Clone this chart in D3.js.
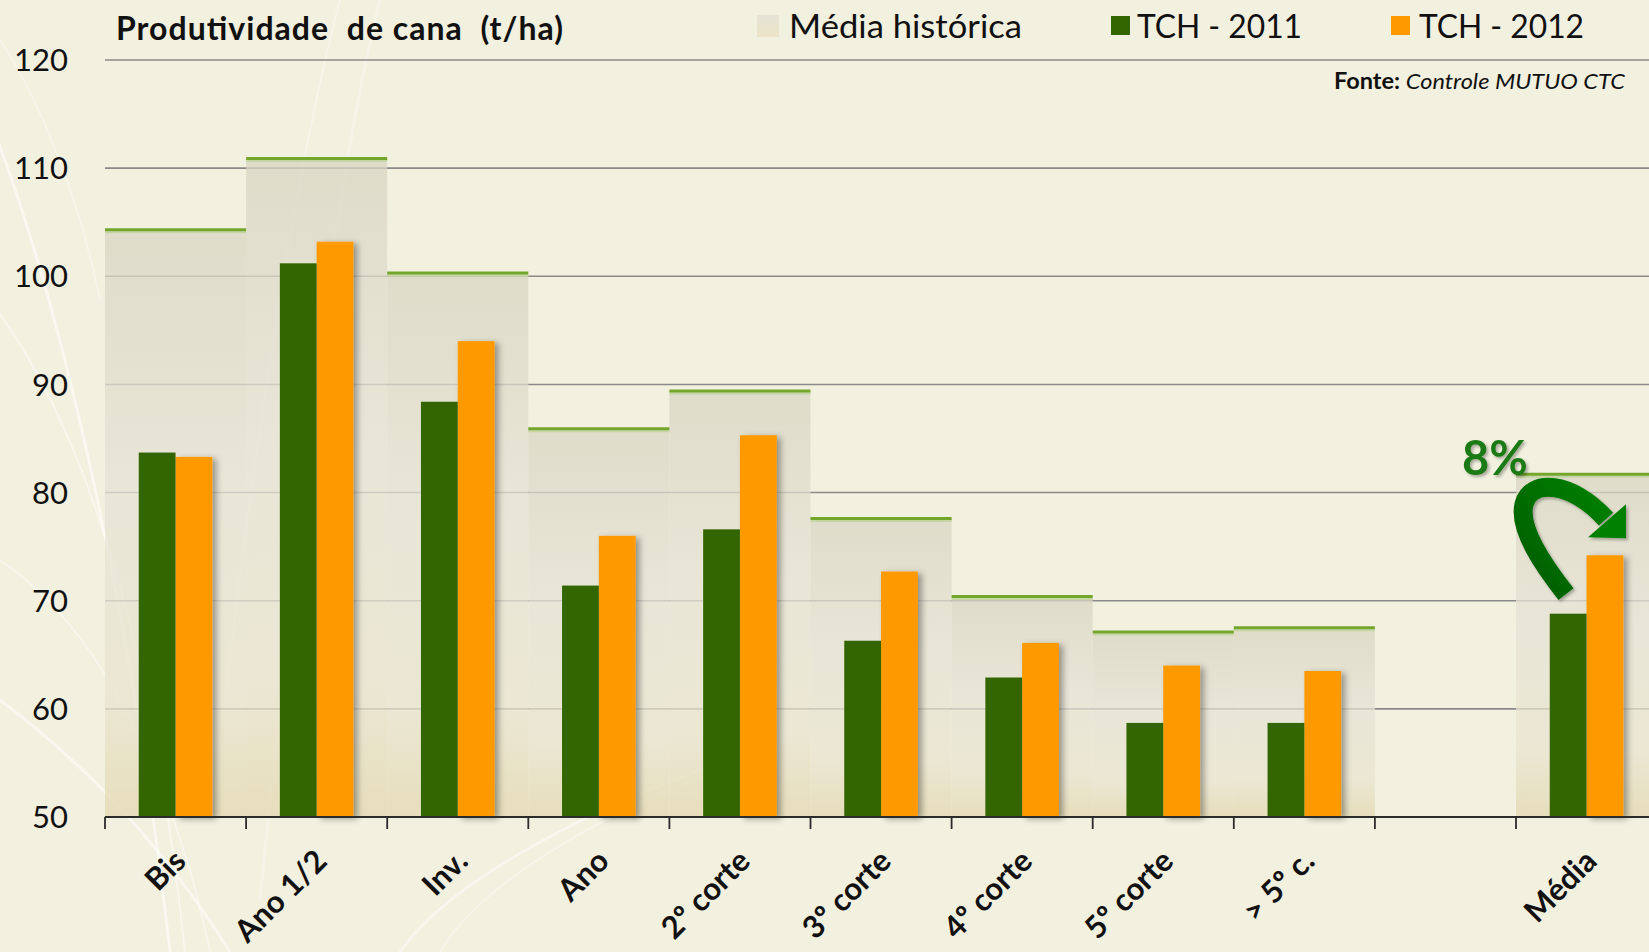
<!DOCTYPE html>
<html>
<head>
<meta charset="utf-8">
<script src="https://cdn.jsdelivr.net/npm/d3@7"></script>
<style>
  html, body { margin: 0; padding: 0; background: #f2f0df; }
  svg { display: block; }
  text { font-family: Lato, "Open Sans", sans-serif; }
</style>
</head>
<body>
<svg id="chart" width="1649" height="952"></svg>
<script>
// ---- Data ----
const categories = ["Bis", "Ano 1/2", "Inv.", "Ano", "2º corte", "3º corte", "4º corte", "5º corte", "> 5º c.", " ", "Média"];
const mediaHistorica = [104.3, 110.9, 100.3, 85.9, 89.4, 77.6, 70.4, 67.1, 67.5, null, 81.7];
const tch2011 = [83.7, 101.2, 88.4, 71.4, 76.6, 66.3, 62.9, 58.7, 58.7, null, 68.8];
const tch2012 = [83.3, 103.2, 94.0, 76.0, 85.3, 72.7, 66.1, 64.0, 63.5, null, 74.2];
const seriesNames = ["TCH - 2011", "TCH - 2012"];
const yTicks = [50, 60, 70, 80, 90, 100, 110, 120];
const titleText = "Produtividade  de cana  (t/ha)";
const annotationText = "8%";

// ---- Layout ----
const W = 1649, H = 952;
const left = 105, bandW = 141.1;
const svg = d3.select("#chart");
const defs = svg.append("defs");

// background
svg.append("rect").attr("width", W).attr("height", H).attr("fill", "#f2f0df");
// decorative streaks
const streaks = svg.append("g").attr("fill", "none").attr("stroke", "#ffffff").attr("stroke-linecap", "round");
[
  ["M -10 120 C 60 300, 130 600, 170 952", 3, 0.55],
  ["M -10 300 C 80 420, 150 620, 185 952", 2, 0.45],
  ["M 0 700 C 80 760, 160 840, 230 952", 3, 0.5],
  ["M 0 560 C 90 620, 170 760, 210 952", 2, 0.4],
  ["M 340 0 C 300 150, 260 400, 225 700", 2, 0.35],
  ["M 380 0 C 330 200, 300 500, 260 900", 3, 0.3],
  ["M 760 750 C 600 800, 450 880, 400 952", 3, 0.45],
  ["M 720 770 C 560 830, 470 900, 440 952", 2, 0.35],
  ["M 0 40 C 40 100, 80 200, 100 300", 2, 0.35]
].forEach(([d, w, o]) => streaks.append("path").attr("d", d).attr("stroke-width", w).attr("opacity", o));

// gradients
const hg = defs.append("linearGradient").attr("id", "histGrad").attr("x1", 0).attr("y1", 0).attr("x2", 0).attr("y2", 1);
hg.append("stop").attr("offset", "0%").attr("stop-color", "#d9d5c3").attr("stop-opacity", 0.75);
hg.append("stop").attr("offset", "45%").attr("stop-color", "#e6e3d5").attr("stop-opacity", 0.75);
hg.append("stop").attr("offset", "80%").attr("stop-color", "#e9e4cf").attr("stop-opacity", 0.75);
hg.append("stop").attr("offset", "100%").attr("stop-color", "#e3d9b2").attr("stop-opacity", 0.8);

const sh = defs.append("filter").attr("id", "shadow").attr("x", "-20%").attr("y", "-5%").attr("width", "150%").attr("height", "110%");
sh.append("feDropShadow").attr("dx", 4).attr("dy", 2).attr("stdDeviation", 3).attr("flood-color", "#000").attr("flood-opacity", 0.35);

const ag = defs.append("linearGradient").attr("id", "arrowGrad").attr("x1", 0).attr("y1", 1).attr("x2", 1).attr("y2", 0);
ag.append("stop").attr("offset", "0%").attr("stop-color", "#005c00");
ag.append("stop").attr("offset", "100%").attr("stop-color", "#008000");

const ts = defs.append("filter").attr("id", "tshadow").attr("x", "-20%").attr("y", "-20%").attr("width", "150%").attr("height", "150%");
ts.append("feDropShadow").attr("dx", 2).attr("dy", 2).attr("stdDeviation", 1.5).attr("flood-color", "#000").attr("flood-opacity", 0.3);

// scales
const x = d3.scaleBand().domain(categories).range([left, left + bandW * categories.length]).paddingInner(0).paddingOuter(0);
const xSub = d3.scaleBand().domain(seriesNames).range([0, x.bandwidth()]).paddingInner(0).paddingOuter(0.917);
const y = d3.scaleLinear().domain([50, 120]).range([817, 60]);
const color = d3.scaleOrdinal().domain(seriesNames).range(["#336600", "#ff9900"]);

// gridlines
svg.append("g").selectAll("line").data(yTicks.filter(t => t > 50)).join("line")
  .attr("x1", left).attr("x2", W).attr("y1", d => y(d)).attr("y2", d => y(d))
  .attr("stroke", "#8a8a8a").attr("stroke-width", 1.6);

// historical bands
const rows = categories.map((c, i) => ({ c, h: mediaHistorica[i], a: tch2011[i], b: tch2012[i] }));
const histRows = rows.filter(r => r.h != null);
svg.append("g").selectAll("rect").data(histRows).join("rect")
  .attr("x", d => x(d.c)).attr("width", x.bandwidth())
  .attr("y", d => y(d.h)).attr("height", d => y(50) - y(d.h))
  .attr("fill", "url(#histGrad)");
svg.append("g").selectAll("line").data(histRows).join("line")
  .attr("x1", d => x(d.c)).attr("x2", d => x(d.c) + x.bandwidth())
  .attr("y1", d => y(d.h) + 2.5).attr("y2", d => y(d.h) + 2.5)
  .attr("stroke", "#c5d6a4").attr("stroke-width", 2);
svg.append("g").selectAll("line").data(histRows).join("line")
  .attr("x1", d => x(d.c)).attr("x2", d => x(d.c) + x.bandwidth())
  .attr("y1", d => y(d.h)).attr("y2", d => y(d.h))
  .attr("stroke", "#74a62c").attr("stroke-width", 3);

// bars
const barData = [];
rows.forEach(r => {
  if (r.a != null) barData.push({ c: r.c, s: seriesNames[0], v: r.a });
  if (r.b != null) barData.push({ c: r.c, s: seriesNames[1], v: r.b });
});
svg.append("g").selectAll("rect").data(barData.filter(d => d.s === seriesNames[1])).join("rect")
  .attr("x", d => x(d.c) + xSub(d.s)).attr("width", xSub.bandwidth())
  .attr("y", d => y(d.v)).attr("height", d => y(50) - y(d.v))
  .attr("fill", d => color(d.s)).attr("filter", "url(#shadow)");
svg.append("g").selectAll("rect").data(barData.filter(d => d.s === seriesNames[0])).join("rect")
  .attr("x", d => x(d.c) + xSub(d.s)).attr("width", xSub.bandwidth())
  .attr("y", d => y(d.v)).attr("height", d => y(50) - y(d.v))
  .attr("fill", d => color(d.s));

// x axis
const xAxisG = svg.append("g");
xAxisG.append("line").attr("x1", left).attr("x2", W).attr("y1", y(50)).attr("y2", y(50))
  .attr("stroke", "#2b2b2b").attr("stroke-width", 1.8);
xAxisG.selectAll("line.tick").data(categories).join("line").attr("class", "tick")
  .attr("x1", d => x(d)).attr("x2", d => x(d)).attr("y1", y(50)).attr("y2", y(50) + 12)
  .attr("stroke", "#2b2b2b").attr("stroke-width", 1.8);
xAxisG.selectAll("text").data(categories).join("text")
  .attr("transform", d => `translate(${x(d) + x.bandwidth() / 2 + 12},${y(50) + 46}) rotate(-45)`)
  .attr("text-anchor", "end")
  .attr("font-size", 31).attr("font-weight", "bold").attr("fill", "#111")
  .text(d => d.trim());

// y axis labels
svg.append("g").selectAll("text").data(yTicks).join("text")
  .attr("x", 68).attr("y", d => y(d)).attr("dy", "0.36em")
  .attr("text-anchor", "end").attr("font-size", 31).attr("fill", "#111")
  .text(d => d);

// title
svg.append("text").attr("x", 116).attr("y", 40)
  .attr("font-size", 32).attr("font-weight", "bold").attr("fill", "#111")
  .attr("xml:space", "preserve")
  .attr("textLength", 447).attr("lengthAdjust", "spacing")
  .text(titleText);

// legend
const legend = svg.append("g");
const lg = defs.append("linearGradient").attr("id", "legGrad").attr("x1", 0).attr("y1", 0).attr("x2", 0).attr("y2", 1);
lg.append("stop").attr("offset", "0%").attr("stop-color", "#e6e3d6");
lg.append("stop").attr("offset", "100%").attr("stop-color", "#ebe4c6");
legend.append("rect").attr("x", 757).attr("y", 15).attr("width", 22).attr("height", 22).attr("fill", "url(#legGrad)");
legend.append("text").attr("x", 789).attr("y", 38).attr("font-size", 32).attr("fill", "#111")
  .attr("textLength", 233).attr("lengthAdjust", "spacingAndGlyphs").text("Média histórica");
const legItems = [
  { s: seriesNames[0], sx: 1111, tx: 1137 },
  { s: seriesNames[1], sx: 1391, tx: 1419 }
];
legItems.forEach(it => {
  legend.append("rect").attr("x", it.sx).attr("y", 16).attr("width", 19).attr("height", 19).attr("fill", color(it.s));
  legend.append("text").attr("x", it.tx).attr("y", 38).attr("font-size", 32).attr("fill", "#111")
    .attr("textLength", 165).attr("lengthAdjust", "spacingAndGlyphs").text(it.s);
});

// source
const src = svg.append("text").attr("x", 1334).attr("y", 89).attr("font-size", 22).attr("fill", "#111")
  .attr("textLength", 291).attr("lengthAdjust", "spacingAndGlyphs");
src.append("tspan").attr("font-weight", "bold").text("Fonte: ");
src.append("tspan").attr("font-style", "italic").text("Controle MUTUO CTC");

// annotation: 8% and curved arrow, positioned from scales
const mx = x("Média");
const mIdx = categories.indexOf("Média");
const yTop = y(mediaHistorica[mIdx]);
svg.append("text").attr("x", mx - 54).attr("y", yTop + 1)
  .attr("font-family", "Liberation Sans, Arial, sans-serif")
  .attr("font-size", 47).attr("font-weight", "bold").attr("fill", "#1d7a14")
  .attr("filter", "url(#tshadow)")
  .text(annotationText);

const arrowG = svg.append("g").attr("filter", "url(#tshadow)");
const ax = mx, ay = yTop; // anchor: top-left of the Média band
arrowG.append("path")
  .attr("d", `M ${ax + 50} ${ay + 120} C ${ax + 28} ${ay + 92}, ${ax + 2} ${ay + 55}, ${ax + 8} ${ay + 30} C ${ax + 14} ${ay + 5}, ${ax + 55} ${ay + 6}, ${ax + 90} ${ay + 45}`)
  .attr("fill", "none").attr("stroke", "url(#arrowGrad)").attr("stroke-width", 19);
arrowG.append("path")
  .attr("d", `M ${ax + 110} ${ay + 30} L ${ax + 110} ${ay + 64} L ${ax + 72} ${ay + 63} Z`)
  .attr("fill", "#008000");
</script>
</body>
</html>
